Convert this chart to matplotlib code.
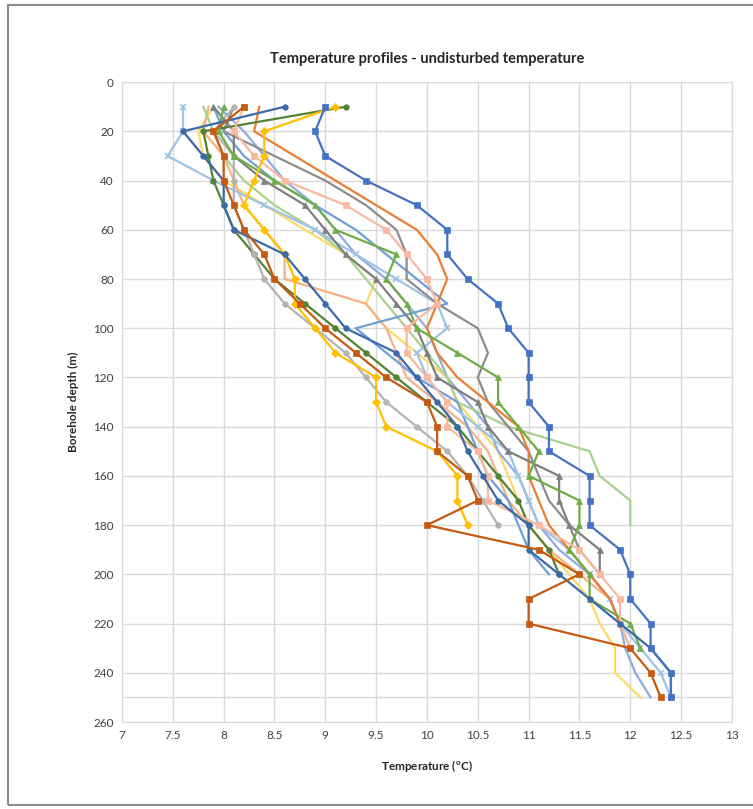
import matplotlib
matplotlib.use('Agg')
import matplotlib.pyplot as plt
from matplotlib.patches import Rectangle

plt.rcParams['font.family'] = ['Lato', 'DejaVu Sans']

# depth of each reading (m), every series starts at 10 m
depth = [10, 20, 30, 40, 50, 60, 70, 80, 90, 100, 110, 120, 130,
         140, 150, 160, 170, 180, 190, 200, 210, 220, 230, 240, 250]

# temperatures (degC), one list per borehole
blue_sq = [9.0, 8.9, 9.0, 9.4, 9.9, 10.2, 10.2, 10.4, 10.7, 10.8, 11.0, 11.0, 11.0,
           11.2, 11.2, 11.6, 11.6, 11.6, 11.9, 12.0, 12.0, 12.2, 12.2, 12.4, 12.4]
brown_sq = [8.2, 7.9, 8.0, 8.0, 8.1, 8.2, 8.4, 8.5, 8.75, 9.0, 9.3, 9.6, 10.0,
            10.1, 10.1, 10.4, 10.5, 10.0, 11.1, 11.5, 11.0, 11.0, 12.0, 12.2, 12.3]
gold = [9.1, 8.4, 8.4, 8.3, 8.2, 8.4, 8.6, 8.7, 8.7, 8.9, 9.1, 9.5, 9.5,
        9.6, 10.1, 10.3, 10.3, 10.4]
gray_dot = [8.1, 7.9, 8.1, 8.1, 8.1, 8.2, 8.3, 8.4, 8.6, 8.9, 9.2, 9.4, 9.6,
            9.9, 10.2, 10.4, 10.55, 10.7]
gray_tri = [7.9, 8.1, 8.1, 8.4, 8.8, 9.0, 9.2, 9.5, 9.7, 9.9, 10.0, 10.1, 10.5,
            10.6, 10.8, 11.3, 11.3, 11.4, 11.7, 11.7]
green_tri = [8.0, 7.95, 8.1, 8.5, 8.9, 9.1, 9.7, 9.6, 9.8, 9.9, 10.3, 10.7, 10.7,
             10.9, 11.1, 11.0, 11.5, 11.5, 11.4, 11.6, 11.6, 12.0, 12.1]
dkgreen = [9.2, 7.8, 7.85, 7.9, 8.0, 8.1, 8.3, 8.5, 8.8, 9.1, 9.4, 9.7, 10.0,
           10.3, 10.5, 10.7, 10.9, 11.0, 11.2, 11.3]
dkblue = [8.6, 7.6, 7.8, 8.0, 8.0, 8.1, 8.6, 8.8, 9.0, 9.2, 9.7, 9.9, 10.1,
          10.3, 10.4, 10.55, 10.7, 11.0, 11.0, 11.3, 11.6, 11.9, 12.2, 12.4, 12.4]
pink_sq = [8.2, 8.1, 8.3, 8.6, 9.2, 9.6, 9.8, 10.0, 10.1, 9.8, 9.8, 10.0, 10.2,
           10.2, 10.5, 10.6, 10.6, 11.1, 11.5, 11.7, 11.9, 11.9, 12.0]
orange = [8.35, 8.3, 8.7, 9.1, 9.5, 9.9, 10.1, 10.2, 10.1, 10.0, 10.1, 10.3, 10.6,
          10.9, 11.0, 11.0, 11.1, 11.2, 11.4, 11.6, 11.8, 11.9]
ltgreen = [7.8, 7.9, 8.0, 8.2, 8.5, 8.9, 9.2, 9.4, 9.6, 9.8, 10.0, 10.2, 10.3,
           10.8, 11.6, 11.7, 12.0, 12.0]
ltblue = [7.6, 7.6, 7.45, 7.9, 8.4, 8.9, 9.3, 9.7, 10.1, 10.2, 9.9, 10.0, 10.2,
          10.5, 10.8, 10.9, 11.0, 11.1, 11.4, 11.6, 11.8, 11.9, 12.1, 12.3, 12.4]
steel = [7.9, 8.0, 8.2, 8.5, 8.9, 9.3, 9.6, 9.9, 10.2, 9.3, 9.6, 9.9, 10.3,
         10.4, 10.5, 10.6, 10.8, 10.9, 11.0, 11.2]
periwinkle = [7.95, 8.2, 8.4, 8.6, 8.9, 9.1, 9.3, 9.6, 9.8, 10.0, 10.1, 10.2, 10.4,
              10.6, 10.7, 10.9, 11.0, 11.1, 11.3, 11.6, 11.8, 11.9, 11.95, 12.05, 12.2]
ltyellow = [7.9, 7.75, 7.8, 8.0, 8.4, 8.8, 9.2, 9.5, 9.4, 9.6, 9.9, 10.2, 10.3,
            10.5, 10.7, 10.8, 10.9, 11.0, 11.2, 11.4, 11.6, 11.7, 11.85, 11.85, 12.1]
salmon = [7.85, 7.8, 8.0, 8.1, 8.2, 8.4, 8.6, 8.6, 9.4, 9.6, 9.7, 9.8, 10.1,
          10.4, 10.6, 10.7, 10.8, 11.0, 11.2, 11.5, 11.8, 11.9, 12.0]
gray_line = [8.1, 8.0, 8.5, 9.0, 9.4, 9.7, 9.8, 9.8, 10.1, 10.5, 10.6, 10.5, 10.6,
             10.8, 11.0, 11.1, 11.2, 11.4, 11.5, 11.7]

# (values, colour, marker)
series = [
    (ltyellow, '#FFD966', None),
    (salmon, '#F4B183', None),
    (periwinkle, '#8FAADC', None),
    (ltgreen, '#A9D18E', None),
    (steel, '#6F9FD8', None),
    (ltblue, '#9DC3E6', 'x'),
    (gray_line, '#8C8C8C', None),
    (orange, '#ED7D31', None),
    (dkgreen, '#548235', 'o'),
    (gray_dot, '#B4B4B4', 'o'),
    (gray_tri, '#7F7F7F', '^'),
    (green_tri, '#70AD47', '^'),
    (pink_sq, '#F8B9A0', 's'),
    (gold, '#FFC000', 'D'),
    (dkblue, '#3A6AA8', 'o'),
    (brown_sq, '#C55A11', 's'),
    (blue_sq, '#4472C4', 's'),
]

fig = plt.figure(figsize=(7.53, 8.09), dpi=100)
ax = fig.add_axes([0.162, 0.1075, 0.81, 0.791])

for temps, col, mk in series:
    ax.plot(temps, depth[:len(temps)], color=col, lw=1.6, marker=mk,
            markersize=4, markeredgewidth=1.2 if mk == 'x' else 0.5)

ax.axhline(250, color='#D9D9D9', lw=1, zorder=0)

ax.set_xlim(7, 13)
ax.set_ylim(260, 0)
ax.set_xticks([7 + 0.5 * i for i in range(13)])
ax.set_xticklabels(['7', '7.5', '8', '8.5', '9', '9.5', '10', '10.5',
                    '11', '11.5', '12', '12.5', '13'])
ax.set_yticks(range(0, 261, 20))
ax.grid(True, color='#D9D9D9', lw=1)
ax.set_axisbelow(True)
for s in ax.spines.values():
    s.set_color('#D9D9D9')
ax.tick_params(length=0, labelsize=8.5, colors='#404040', pad=6)

ax.set_title('Temperature profiles - undisturbed temperature',
             fontsize=10.5, fontweight='bold', color='#262626', pad=14)
ax.set_ylabel('Borehole depth (m)', fontsize=8.5, fontweight='bold',
              color='#262626', labelpad=10)
ax.set_xlabel(r'Temperature ($\mathregular{^{o}}$C)', fontsize=8.5,
              fontweight='bold', color='#262626', labelpad=12)

# outer chart-area border, running off the right edge as in the screenshot
fig.patches.append(Rectangle((8 / 753, 4 / 809), 1.1, 1 - 9 / 809,
                             transform=fig.transFigure, fill=False,
                             edgecolor='#8C8C8C', lw=1.5))

fig.savefig('out.png', dpi=100, facecolor='white')
